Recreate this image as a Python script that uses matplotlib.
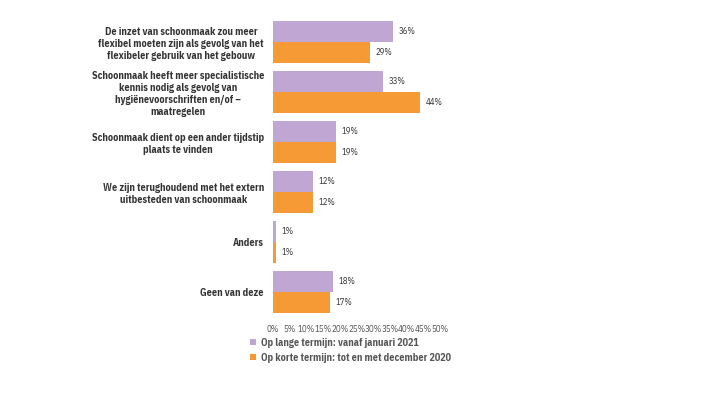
import matplotlib
matplotlib.use('Agg')
import matplotlib.pyplot as plt
import numpy as np

plt.rcParams['font.family'] = ['IBM Plex Sans Condensed', 'DejaVu Sans']

categories = [
    'De inzet van schoonmaak zou meer\nflexibel moeten zijn als gevolg van het\nflexibeler gebruik van het gebouw',
    'Schoonmaak heeft meer specialistische\nkennis nodig als gevolg van\nhygiënevoorschriften en/of –\nmaatregelen',
    'Schoonmaak dient op een ander tijdstip\nplaats te vinden',
    'We zijn terughoudend met het extern\nuitbesteden van schoonmaak',
    'Anders',
    'Geen van deze',
]
lange_termijn = [36, 33, 19, 12, 1, 18]
korte_termijn = [29, 44, 19, 12, 1, 17]
series_names = ['Op lange termijn: vanaf januari 2021',
                'Op korte termijn: tot en met december 2020']
xticks = [0, 5, 10, 15, 20, 25, 30, 35, 40, 45, 50]

purple = '#C0A6D3'
orange = '#F59A35'
text_col = '#333333'

fig = plt.figure(figsize=(7.05, 3.96), dpi=100)
ax = fig.add_axes([273 / 705, 83 / 396, 167 / 705, 292 / 396])

y = np.arange(len(categories))
h = 0.42
b1 = ax.barh(y - h / 2, lange_termijn, height=h, color=purple, label=series_names[0])
b2 = ax.barh(y + h / 2, korte_termijn, height=h, color=orange, label=series_names[1])

# waardelabels naast de balken
for bars, vals in ((b1, lange_termijn), (b2, korte_termijn)):
    for rect, v in zip(bars, vals):
        ax.text(rect.get_width() + 1.6, rect.get_y() + rect.get_height() / 2,
                f'{v}%', va='center', ha='left', fontsize=6.3, color=text_col)

ax.set_ylim(len(categories) - 1 + h, -h)
ax.set_xlim(0, 50)
ax.set_yticks(y)
ax.set_yticklabels(categories, fontsize=7.3, fontweight='bold', color=text_col,
                   linespacing=1.22, multialignment='center')
ax.set_xticks(xticks)
ax.set_xticklabels([f'{t}%' for t in xticks], fontsize=6.5, color='#555555')
ax.tick_params(axis='both', length=0)
ax.tick_params(axis='y', pad=6.5)
ax.tick_params(axis='x', pad=9)
for s in ax.spines.values():
    s.set_visible(False)

leg = fig.legend(handles=[b1, b2], loc='upper left', bbox_to_anchor=(250 / 705, 1 - 338 / 396),
                 frameon=False, fontsize=7.3, handlelength=0.55, handleheight=0.55,
                 handletextpad=0.5, labelspacing=0.45, borderpad=0, borderaxespad=0)
for t in leg.get_texts():
    t.set_color('#555555')
    t.set_fontweight('bold')

fig.savefig('out.png', dpi=100)
